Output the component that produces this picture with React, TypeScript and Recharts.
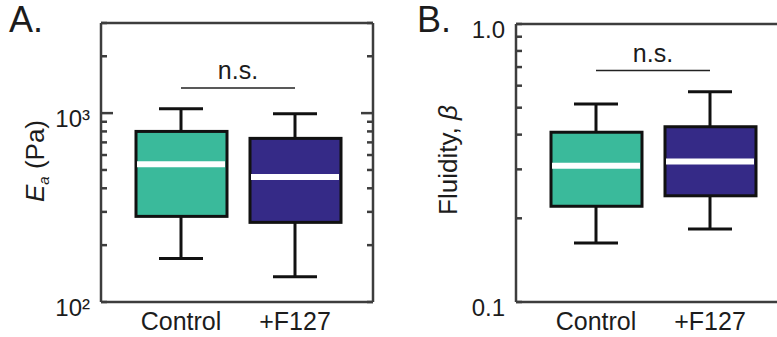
import React from "react";
import { ComposedChart, Bar, Cell, XAxis, YAxis, ReferenceLine } from "recharts";

const categories = ["Control", "+F127"];
const boxColors = ["#3aba9b", "#352a87"];

// panel A: apparent modulus E_a (Pa), log axis
const eaMin = [170, 136];
const eaQ1 = [284, 264];
const eaMedian = [536, 459];
const eaQ3 = [800, 735];
const eaMax = [1055, 993];
const eaTicks = [100, 200, 300, 400, 500, 600, 700, 800, 900, 1000, 2000, 3000];
const eaMajorTicks = [1000];
const eaNs = 1360;

// panel B: fluidity beta, log axis
const betaMin = [0.163, 0.183];
const betaQ1 = [0.221, 0.241];
const betaMedian = [0.309, 0.32];
const betaQ3 = [0.408, 0.427];
const betaMax = [0.515, 0.571];
const betaTicks = [0.1, 0.2, 0.3, 0.4, 0.5, 0.6, 0.7, 0.8, 0.9, 1.0];
const betaMajorTicks: number[] = [];
const betaNs = 0.68;

const AX = "#3d3d3d";
const INK = "#1c1c1c";
const FONT = "'Liberation Sans', Arial, Helvetica, sans-serif";

const buildRows = (mins: number[], q1s: number[], meds: number[], q3s: number[], maxs: number[]) =>
  categories.map((name, i) => ({
    name,
    whisker: [mins[i], maxs[i]],
    box: [q1s[i], q3s[i]],
    median: [meds[i], meds[i]],
  }));

const eaRows = buildRows(eaMin, eaQ1, eaMedian, eaQ3, eaMax);
const betaRows = buildRows(betaMin, betaQ1, betaMedian, betaQ3, betaMax);

const Whisker = (p: any) => {
  const top = Math.min(p.y, p.y + p.height);
  const bot = Math.max(p.y, p.y + p.height);
  const cx = p.x + p.width / 2;
  return (
    <g>
      <line x1={cx} x2={cx} y1={top} y2={bot} stroke="#111" strokeWidth={3} />
      <line x1={p.x} x2={p.x + p.width} y1={top} y2={top} stroke="#111" strokeWidth={3} />
      <line x1={p.x} x2={p.x + p.width} y1={bot} y2={bot} stroke="#111" strokeWidth={3} />
    </g>
  );
};

const BoxShape = (p: any) => (
  <rect
    x={p.x}
    y={Math.min(p.y, p.y + p.height)}
    width={p.width}
    height={Math.abs(p.height)}
    fill={p.fill}
    stroke="#111"
    strokeWidth={3}
  />
);

const MedianShape = (p: any) => (
  <line x1={p.x} x2={p.x + p.width} y1={p.y} y2={p.y} stroke="#fff" strokeWidth={6} />
);

// short inward tick marks at both ends of a horizontal reference line
const tickMark = (len: number) => (p: any) => {
  const left = Math.min(Number(p.x1), Number(p.x2));
  const right = Math.max(Number(p.x1), Number(p.x2));
  const y = Number(p.y1);
  return (
    <g>
      <line x1={left} x2={left + len} y1={y} y2={y} stroke={AX} strokeWidth={2.5} />
      <line x1={right} x2={right - len} y1={y} y2={y} stroke={AX} strokeWidth={2.5} />
    </g>
  );
};

const eaFormat = (v: number) => (v === 100 ? "10²" : v === 1000 ? "10³" : "");
const betaFormat = (v: number) => (v === 0.1 ? "0.1" : v === 1 ? "1.0" : "");

type PanelProps = {
  rows: any[];
  domain: [number, number];
  ticks: number[];
  majorTicks: number[];
  format: (v: number) => string;
  ns: number;
  width: number;
  yAxisWidth: number;
  top: number;
  right: number;
};

const Panel = ({ rows, domain, ticks, majorTicks, format, ns, width, yAxisWidth, top, right }: PanelProps) => {
  const pad = { left: 23, right: 21 };
  return (
    <ComposedChart width={width} height={337} data={rows} margin={{ top: top - 1, right, bottom: 0, left: 0 }}>
      <XAxis
        dataKey="name"
        height={35}
        padding={pad}
        axisLine={{ stroke: AX, strokeWidth: 2.5 }}
        tickLine={false}
        tickSize={0}
        tickMargin={10}
        tick={{ fontSize: 25, fill: INK, fontFamily: FONT }}
      />
      <XAxis
        xAxisId="top"
        orientation="top"
        dataKey="name"
        height={1}
        padding={pad}
        axisLine={{ stroke: AX, strokeWidth: 2.5 }}
        tickLine={false}
        tick={false}
      />
      <XAxis xAxisId="mid" dataKey="name" padding={pad} hide />
      <YAxis
        scale="log"
        type="number"
        domain={domain}
        allowDataOverflow
        ticks={ticks}
        interval={0}
        width={yAxisWidth}
        axisLine={{ stroke: AX, strokeWidth: 2.5 }}
        tickLine={false}
        tickSize={0}
        tickMargin={11}
        tickFormatter={format}
        tick={{ fontSize: 24, fill: INK, fontFamily: FONT, dy: 5 }}
      />
      <YAxis
        yAxisId="right"
        orientation="right"
        mirror
        scale="log"
        type="number"
        domain={domain}
        allowDataOverflow
        width={1}
        axisLine={{ stroke: AX, strokeWidth: 2.5 }}
        tickLine={false}
        tick={false}
      />
      {ticks.map((t) => (
        <ReferenceLine
          key={`t-${t}`}
          y={t}
          ifOverflow="visible"
          shape={tickMark(majorTicks.includes(t) ? 12 : 6)}
        />
      ))}
      <Bar dataKey="whisker" barSize={44} shape={<Whisker />} isAnimationActive={false} />
      <Bar dataKey="box" xAxisId="top" barSize={91} shape={<BoxShape />} isAnimationActive={false}>
        {rows.map((r, i) => (
          <Cell key={r.name} fill={boxColors[i % boxColors.length]} />
        ))}
      </Bar>
      <Bar dataKey="median" xAxisId="mid" barSize={88} shape={<MedianShape />} isAnimationActive={false} />
      <ReferenceLine
        segment={[
          { x: categories[0], y: ns },
          { x: categories[1], y: ns },
        ]}
        stroke="#222"
        strokeWidth={1.5}
        label={{ value: "n.s.", position: "top", offset: 9, fontSize: 25, fill: INK, fontFamily: FONT }}
      />
    </ComposedChart>
  );
};

const letterStyle: React.CSSProperties = {
  position: "absolute",
  top: 2,
  fontSize: 36,
  lineHeight: 1,
  fontFamily: FONT,
  color: INK,
};

const yLabelStyle = (cx: number, cy: number): React.CSSProperties => ({
  position: "absolute",
  left: cx - 100,
  top: cy - 13,
  width: 200,
  height: 26,
  lineHeight: "26px",
  textAlign: "center",
  fontSize: 26,
  fontFamily: FONT,
  color: INK,
  whiteSpace: "nowrap",
  transform: "rotate(-90deg)",
});

export default function App() {
  return (
    <div
      style={{
        position: "absolute",
        left: 0,
        top: 0,
        width: 777,
        height: 337,
        overflow: "hidden",
        background: "#fff",
      }}
    >
      <div style={{ position: "absolute", left: 0, top: 0 }}>
        <Panel
          rows={eaRows}
          domain={[100, 3000]}
          ticks={eaTicks}
          majorTicks={eaMajorTicks}
          format={eaFormat}
          ns={eaNs}
          width={390}
          yAxisWidth={101}
          top={23}
          right={17}
        />
      </div>
      <div style={{ position: "absolute", left: 390, top: 0 }}>
        <Panel
          rows={betaRows}
          domain={[0.1, 1]}
          ticks={betaTicks}
          majorTicks={betaMajorTicks}
          format={betaFormat}
          ns={betaNs}
          width={410}
          yAxisWidth={126}
          top={24}
          right={12}
        />
      </div>
      <div style={yLabelStyle(35, 161)}>
        <i>E</i>
        <i style={{ fontSize: 15, verticalAlign: "-5px" }}>a</i> (Pa)
      </div>
      <div style={yLabelStyle(448, 160)}>
        Fluidity, <i>β</i>
      </div>
      <div style={{ ...letterStyle, left: 9 }}>A.</div>
      <div style={{ ...letterStyle, left: 417 }}>B.</div>
    </div>
  );
}
